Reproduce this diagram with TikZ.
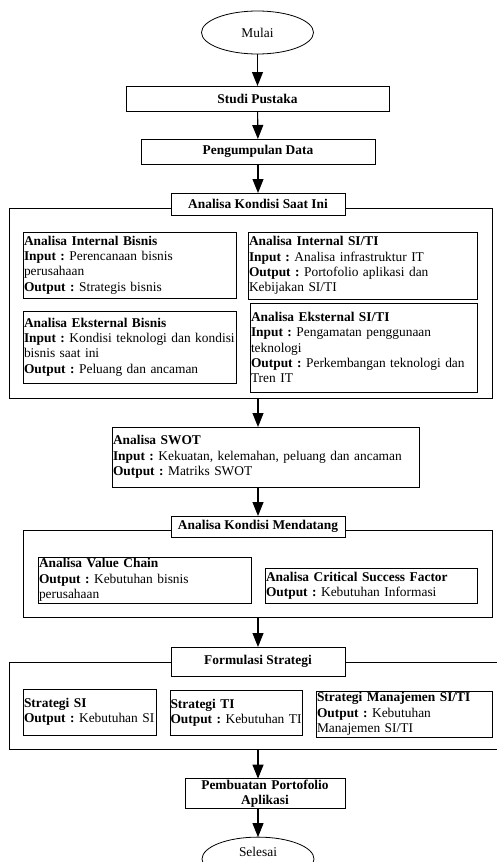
\documentclass[tikz,border=0pt]{standalone}
\usepackage{fontspec}
\setmainfont{Liberation Serif}
\usepackage{tikz}
\usetikzlibrary{shapes.geometric}
\usetikzlibrary{arrows.meta}
\usetikzlibrary{positioning}

\begin{document}
\begin{tikzpicture}[
  x=1pt, y=-1pt,
  every node/.style={font=\fontsize{13.4}{15.4}\selectfont\frenchspacing, outer sep=0pt, line width=0.8pt},
  terminal/.style={ellipse, draw, minimum width=112pt, minimum height=43pt},
  prosesbox/.style={rectangle, draw, font=\fontsize{13.4}{15.4}\selectfont\bfseries, align=center, inner sep=1pt},
  judulbox/.style={rectangle, draw, fill=white, font=\fontsize{13.4}{15.4}\selectfont\bfseries, minimum width=174pt},
  isibox/.style={rectangle, draw, anchor=north west, align=left, inner xsep=1pt, inner ysep=0pt},
  bingkai/.style={rectangle, draw, anchor=north west, inner sep=0pt},
  panah/.style={-{Triangle[length=14pt,width=11pt]}, line width=1.1pt}
]
\useasboundingbox (0,0) rectangle (497,862);

\node[terminal] (mulai) at (257.5,32.5) {Mulai};
\node[prosesbox, minimum width=263pt, minimum height=25pt] (studi) at (257.5,98.5) {Studi Pustaka};
\node[prosesbox, minimum width=234pt, minimum height=25pt] (kumpul) at (258,151.5) {Pengumpulan Data};

\node[bingkai, minimum width=483pt, minimum height=190pt] (fsaat) at (9,208) {};
\node[judulbox, minimum height=22pt] (hsaat) at (258,204) {Analisa Kondisi Saat Ini};
\node[isibox, text width=211pt, minimum height=66pt] (aib) at (23,232)
  {\textbf{Analisa Internal Bisnis}\\\textbf{Input :} Perencanaan bisnis\\perusahaan\\\textbf{Output :} Strategis bisnis};
\node[isibox, text width=227pt, minimum height=67pt] (ais) at (248,232)
  {\textbf{Analisa Internal SI/TI}\\\textbf{Input :} Analisa infrastruktur IT\\\textbf{Output :} Portofolio aplikasi dan\\Kebijakan SI/TI};
\node[isibox, text width=211pt, minimum height=72pt] (aeb) at (23,311)
  {\textbf{Analisa Eksternal Bisnis}\\\textbf{Input :} Kondisi teknologi dan kondisi\\bisnis saat ini\\\textbf{Output :} Peluang dan ancaman};
\node[isibox, text width=225pt, minimum height=89pt] (aes) at (250,303)
  {\textbf{Analisa Eksternal SI/TI}\\\textbf{Input :} Pengamatan penggunaan\\teknologi\\\textbf{Output :} Perkembangan teknologi dan\\Tren IT};

\node[isibox, text width=305pt, minimum height=60pt] (swot) at (112,427)
  {\textbf{Analisa SWOT}\\\textbf{Input :} Kekuatan, kelemahan, peluang dan ancaman\\\textbf{Output :} Matriks SWOT};

\node[bingkai, minimum width=469pt, minimum height=87pt] (fdatang) at (23,530) {};
\node[judulbox, minimum height=21pt] (hdatang) at (258,526.5) {Analisa Kondisi Mendatang};
\node[isibox, text width=211pt, minimum height=46pt] (avc) at (38,557)
  {\textbf{Analisa Value Chain}\\\textbf{Output :} Kebutuhan bisnis\\perusahaan};
\node[isibox, text width=210pt, minimum height=35pt] (acsf) at (265,568)
  {\textbf{Analisa Critical Success Factor}\\\textbf{Output :} Kebutuhan Informasi};

\node[bingkai, minimum width=500pt, minimum height=87pt] (fformula) at (9,662) {};
\node[judulbox, minimum height=29pt] (hformula) at (258,661.5) {Formulasi Strategi};
\node[isibox, text width=131pt, minimum height=46pt] (ssi) at (23,689)
  {\textbf{Strategi SI}\\\mbox{\textbf{Output :} Kebutuhan SI}};
\node[isibox, text width=131pt, inner xsep=0.5pt, minimum height=45pt] (sti) at (170,690)
  {\textbf{Strategi TI}\\\mbox{\textbf{Output :} Kebutuhan TI}};
\node[isibox, text width=174pt, minimum height=46pt] (smsi) at (316,691)
  {\textbf{Strategi Manajemen SI/TI}\\\textbf{Output :} Kebutuhan\\Manajemen SI/TI};

\node[prosesbox, minimum width=160pt, minimum height=29pt, text width=156pt] (porto) at (265,793.5) {Pembuatan Portofolio\\Aplikasi};
\node[terminal, text depth=15pt] (selesai) at (258,859) {Selesai};

\draw[panah] (mulai) -- (studi);
\draw[panah] (studi) -- (kumpul);
\draw[panah] (kumpul) -- (hsaat);
\draw[panah] (hsaat |- fsaat.south) -- (hsaat |- swot.north);
\draw[panah] (hsaat |- swot.south) -- (hdatang);
\draw[panah] (hdatang |- fdatang.south) -- (hformula);
\draw[panah] (hformula |- fformula.south) -- (hformula |- porto.north);
\draw[panah] (hformula |- porto.south) -- (selesai);
\end{tikzpicture}
\end{document}
